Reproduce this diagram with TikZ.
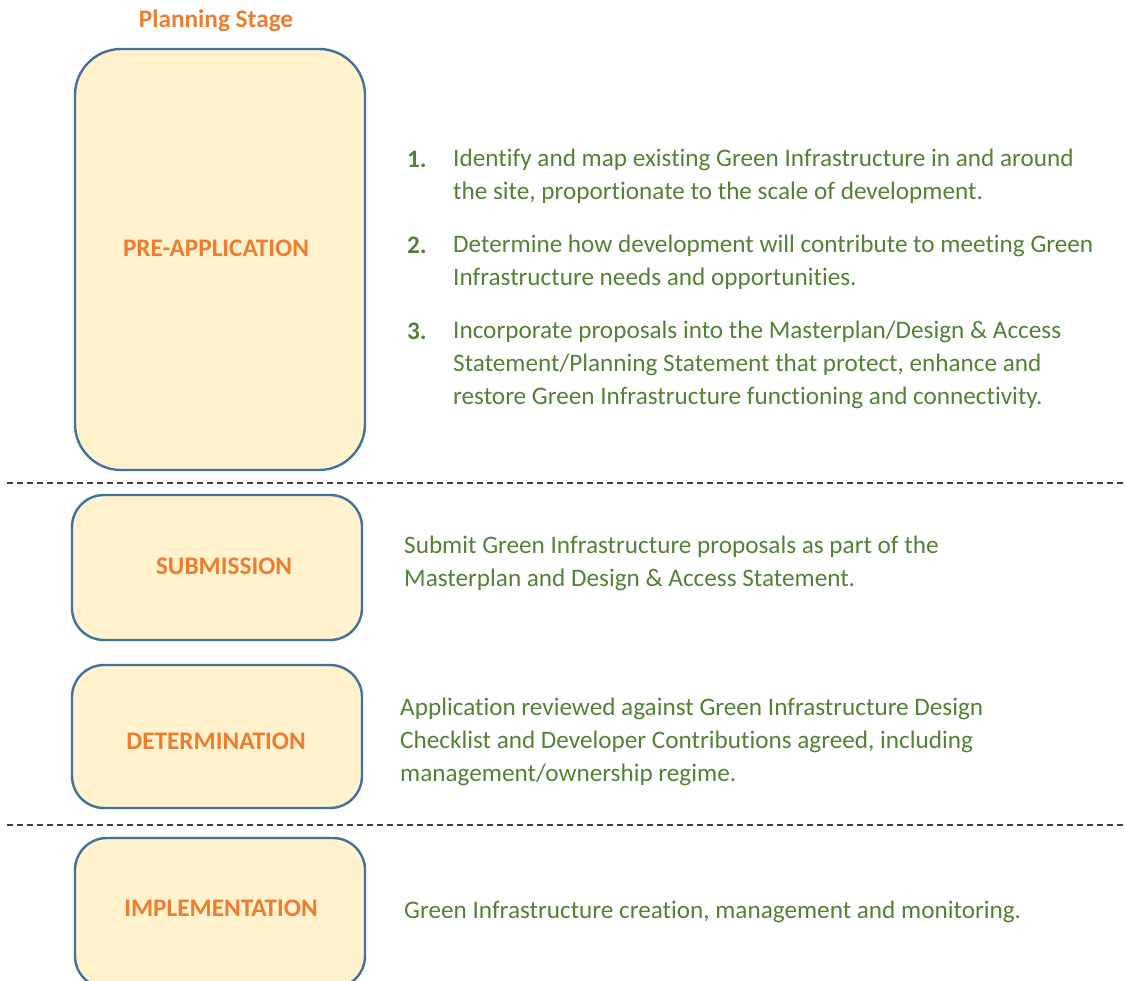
\documentclass[tikz,border=0pt]{standalone}
\usepackage{fontspec}
\setmainfont[Ligatures=NoCommon]{Carlito}
\definecolor{stageorange}{HTML}{ED7D31}
\definecolor{textgreen}{HTML}{538135}
\definecolor{boxblue}{HTML}{41719C}
\definecolor{boxfill}{HTML}{FFF2CC}
\begin{document}
\begin{tikzpicture}[x=1pt,y=-1pt,
  stagebox/.style={draw=boxblue, fill=boxfill, line width=2.4pt, rounded corners=#1, inner sep=0pt},
  stagebox/.default=32pt,
  stagelabel/.style={text=stageorange, font=\fontsize{25.3}{30}\selectfont\bfseries, inner sep=0pt},
  bodytext/.style={text=textgreen, font=\fontsize{25.2}{33}\selectfont, align=left, anchor=west, inner sep=0pt},
  numtext/.style={text=textgreen, font=\fontsize{25.2}{33}\selectfont\bfseries, anchor=west, inner sep=0pt},
  divider/.style={draw=black!75, line width=1.1pt, dash pattern=on 6pt off 4pt}]
\useasboundingbox (0,0) rectangle (1126,981);
% title
\node[stagelabel] (title) at (216,20.5) {Planning Stage};
% boxes
\node[stagebox=46pt, minimum width=290pt, minimum height=421pt] (prebox) at (220,259.5) {};
\node[stagebox, minimum width=290pt, minimum height=145pt] (subbox) at (217,567.5) {};
\node[stagebox, minimum width=290pt, minimum height=143pt] (detbox) at (217,736.5) {};
\node[stagebox, minimum width=290pt, minimum height=150pt] (impbox) at (220,913) {};
% labels
\node[stagelabel] (prelabel) at (216,248) {PRE-APPLICATION};
\node[stagelabel] (sublabel) at (224,566) {SUBMISSION};
\node[stagelabel] (detlabel) at (216,741) {DETERMINATION};
\node[stagelabel] (implabel) at (221,908) {IMPLEMENTATION};
% dividers
\coordinate (d1a) at (7,483);
\coordinate (d1b) at (1126,483);
\coordinate (d2a) at (7,825);
\coordinate (d2b) at (1126,825);
\draw[divider] (d1a) -- (d1b);
\draw[divider] (d2a) -- (d2b);
% numbered list
\node[numtext] (n1) at (407,159.5) {1.};
\node[bodytext] (t1) at (453,176) {Identify and map existing Green Infrastructure in and around\\the site, proportionate to the scale of development.};
\node[numtext] (n2) at (407,245.5) {2.};
\node[bodytext] (t2) at (453,262) {Determine how development will contribute to meeting Green\\Infrastructure needs and opportunities.};
\node[numtext] (n3) at (407,331.5) {3.};
\node[bodytext] (t3) at (453,364.5) {Incorporate proposals into the Masterplan/Design \& Access\\Statement/Planning Statement that protect, enhance and\\restore Green Infrastructure functioning and connectivity.};
% other texts
\node[bodytext] (tsub) at (404,563) {Submit Green Infrastructure proposals as part of the\\Masterplan and Design \& Access Statement.};
\node[bodytext] (tdet) at (400,741.5) {Application reviewed against Green Infrastructure Design\\Checklist and Developer Contributions agreed, including\\management/ownership regime.};
\node[bodytext] (timp) at (404,911.5) {Green Infrastructure creation, management and monitoring.};
\end{tikzpicture}
\end{document}
